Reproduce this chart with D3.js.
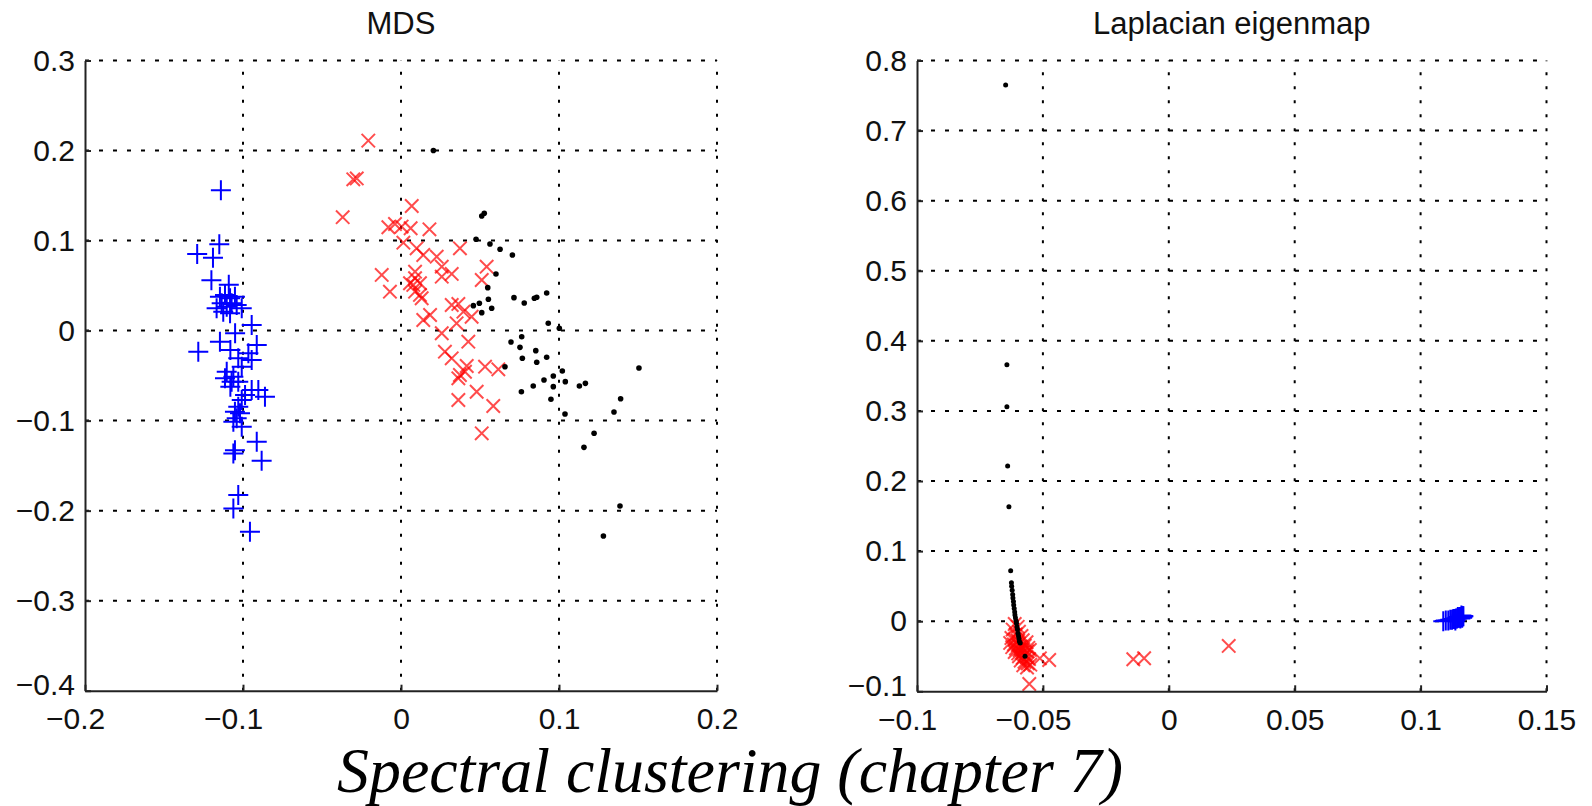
<!DOCTYPE html>
<html>
<head>
<meta charset="utf-8">
<title>Spectral clustering (chapter 7)</title>
<script src="https://cdn.jsdelivr.net/npm/d3@7"></script>
<style>
	html, body { margin:0; padding:0; background:#fff; }
	#chartBox { width:1592px; height:806px; overflow:hidden; }
	svg text { font-family:"Liberation Sans", Arial, Helvetica, sans-serif; fill:#111; }
</style>
</head>
<body>
<div id="chartBox"></div>
<script>
// ---------- data ----------
var chartCaption = "Spectral clustering (chapter 7)";
var mdsTitle = "MDS";
var lapTitle = "Laplacian eigenmap";

var mdsXTicks = [-0.2, -0.1, 0, 0.1, 0.2];
var mdsYTicks = [-0.4, -0.3, -0.2, -0.1, 0, 0.1, 0.2, 0.3];
var lapXTicks = [-0.1, -0.05, 0, 0.05, 0.1, 0.15];
var lapYTicks = [-0.1, 0, 0.1, 0.2, 0.3, 0.4, 0.5, 0.6, 0.7, 0.8];

// MDS embedding, blue "+"
var mdsPlus = [
	[-0.114,0.156],[-0.115,0.096],[-0.129,0.085],[-0.119,0.081],[-0.120,0.056],[-0.109,0.051],
	[-0.1146,0.0377],[-0.1114,0.0396],[-0.1082,0.0359],[-0.1051,0.0377],[-0.1135,0.0303],[-0.1103,0.0266],
	[-0.1072,0.0303],[-0.104,0.0284],[-0.1125,0.021],[-0.1082,0.0192],[-0.1008,0.0248],[-0.1167,0.0248],
	[-0.0945,0.0062],[-0.105,-0.003],[-0.0913,-0.016],[-0.1146,-0.0123],[-0.1283,-0.0234],[-0.108,-0.0216],
	[-0.0966,-0.0252],[-0.103,-0.0308],[-0.0945,-0.0327],[-0.1008,-0.0401],[-0.1103,-0.0457],[-0.1061,-0.0512],
	[-0.1114,-0.053],[-0.1072,-0.0568],[-0.103,-0.0568],[-0.108,-0.0623],[-0.0945,-0.066],[-0.0903,-0.066],
	[-0.0861,-0.0734],[-0.0987,-0.0716],[-0.1008,-0.0771],[-0.103,-0.0845],[-0.1051,-0.0901],[-0.1019,-0.0919],
	[-0.104,-0.0975],[-0.1061,-0.1012],[-0.1008,-0.1068],[-0.0913,-0.1234],[-0.1061,-0.1364],[-0.1051,-0.133],
	[-0.0882,-0.1445],[-0.103,-0.1827],[-0.1061,-0.1975],[-0.0956,-0.2234]
];
// MDS embedding, red "x"
var mdsCross = [
	[-0.0207,0.211],[-0.0302,0.168],[-0.028,0.169],[-0.0369,0.126],[0.0068,0.1384],[-0.008,0.1148],
	[-0.0038,0.1184],[0.0004,0.1155],[0.0061,0.1137],[0.018,0.1125],[0.0015,0.0977],[0.0099,0.0914],
	[0.0141,0.084],[0.0226,0.0821],[0.0373,0.0914],[0.0258,0.071],[0.0321,0.0629],[0.0542,0.071],
	[-0.0122,0.0618],[0.0089,0.0654],[0.0089,0.0581],[0.012,0.0526],[0.0057,0.0526],[-0.007,0.0432],
	[0.0511,0.0562],[0.0258,0.0599],[0.0089,0.0432],[0.0078,0.0507],[0.012,0.0396],[0.0131,0.0359],
	[0.0321,0.0284],[0.0363,0.0296],[0.0395,0.021],[0.0447,0.0154],[0.0184,0.0173],[0.0141,0.0118],
	[0.0352,0.0081],[0.0258,-0.003],[0.0426,-0.0123],[0.0278,-0.0234],[0.0321,-0.0308],[0.0416,-0.0393],
	[0.0405,-0.0457],[0.0532,-0.0401],[0.0616,-0.043],[0.0363,-0.053],[0.0373,-0.0493],[0.0479,-0.0679],
	[0.0363,-0.0771],[0.0584,-0.0838],[0.0511,-0.1141]
];
// MDS embedding, black dots
var mdsDot = [
	[0.0205,0.200],[0.0511,0.1273],[0.0527,0.1303],[0.0475,0.1014],[0.0563,0.0962],[0.0627,0.0903],
	[0.0705,0.084],[0.0601,0.0629],[0.0549,0.0477],[0.0458,0.0277],[0.0496,0.0303],[0.0553,0.0348],
	[0.0574,0.0248],[0.0511,0.0199],[0.0715,0.0366],[0.078,0.0307],[0.0844,0.0359],[0.0859,0.037],
	[0.0922,0.0418],[0.0932,0.0081],[0.1002,0.0026],[0.0696,-0.0127],[0.0764,-0.0068],[0.0753,-0.0186],
	[0.0768,-0.0308],[0.0853,-0.0223],[0.0859,-0.0352],[0.0922,-0.0297],[0.0658,-0.0401],[0.1021,-0.0449],
	[0.0964,-0.0504],[0.0905,-0.0549],[0.104,-0.0567],[0.0837,-0.0616],[0.0964,-0.0623],[0.0762,-0.0679],
	[0.0949,-0.0763],[0.1129,-0.0616],[0.1167,-0.0586],[0.1506,-0.0416],[0.139,-0.0757],[0.1038,-0.0927],
	[0.1348,-0.0904],[0.1222,-0.1141],[0.1158,-0.1297],[0.1386,-0.1949],[0.1281,-0.2282]
];

// Laplacian eigenmap, blue "+"
var lapPlus = [
	[0.1090,0.000],[0.1100,0.001],[0.1110,0.001],[0.1118,0.002],[0.1125,0.002],[0.1130,0.003],
	[0.1135,0.003],[0.1140,0.004],[0.1145,0.004],[0.1150,0.005],[0.1153,0.005],[0.1156,0.006],
	[0.1160,0.006],[0.1163,0.006],[0.1166,0.007],[0.1168,0.007],[0.1170,0.007],[0.1158,0.004],
	[0.1148,0.006],[0.1165,0.005],[0.1138,0.001],[0.1162,0.008]
];
// Laplacian eigenmap, red "x"
var lapCross = [
	[-0.0612,-0.004],[-0.0600,-0.008],[-0.0620,-0.012],[-0.0595,-0.015],[-0.0608,-0.019],[-0.0585,-0.021],
	[-0.0625,-0.024],[-0.0610,-0.026],[-0.0598,-0.028],[-0.0580,-0.027],[-0.0565,-0.030],[-0.0630,-0.031],
	[-0.0615,-0.033],[-0.0600,-0.034],[-0.0588,-0.036],[-0.0572,-0.035],[-0.0558,-0.038],[-0.0622,-0.037],
	[-0.0607,-0.039],[-0.0593,-0.041],[-0.0578,-0.040],[-0.0563,-0.043],[-0.0552,-0.041],[-0.0612,-0.044],
	[-0.0598,-0.046],[-0.0583,-0.045],[-0.0570,-0.047],[-0.0595,-0.050],[-0.0580,-0.052],[-0.0565,-0.051],
	[-0.0555,-0.054],[-0.0588,-0.056],[-0.0573,-0.058],[-0.0560,-0.060],[-0.0578,-0.063],[-0.0563,-0.066],
	[-0.0550,-0.062],[-0.0554,-0.0896],[-0.0512,-0.053],[-0.0475,-0.0553],[-0.0141,-0.0543],[-0.0098,-0.0529],
	[0.0238,-0.0353]
];
// Laplacian eigenmap, black dots
var lapDot = [
	[-0.0648,0.765],[-0.0643,0.366],[-0.0643,0.306],[-0.0640,0.2215],[-0.0635,0.1634],[-0.0628,0.072],
	[-0.0625,0.055],[-0.0624,0.050],[-0.0622,0.044],[-0.0620,0.038],[-0.0619,0.033],[-0.0617,0.028],
	[-0.0616,0.023],[-0.0614,0.018],[-0.0612,0.013],[-0.0611,0.009],[-0.0609,0.005],[-0.0607,0.001],
	[-0.0605,-0.003],[-0.0603,-0.008],[-0.0601,-0.012],[-0.0599,-0.017],[-0.0597,-0.021],[-0.0595,-0.025],
	[-0.0593,-0.029],[-0.0590,-0.031],[-0.0571,-0.050]
];

;(function(d3, win){
	// marker shapes for d3.symbol (stroked, like matlab '+' and 'x')
	var plusShape = {
		draw : function(ctx, size){
			var r = Math.sqrt(size) / 2;
			ctx.moveTo(-r, 0); ctx.lineTo(r, 0);
			ctx.moveTo(0, -r); ctx.lineTo(0, r);
		}
	};
	var crossShape = {
		draw : function(ctx, size){
			var r = Math.sqrt(size) / 2;
			ctx.moveTo(-r, -r); ctx.lineTo(r, r);
			ctx.moveTo(-r, r); ctx.lineTo(r, -r);
		}
	};
	var tickFmt = d3.format("~f");

	function Panel(svg, opt)
	{
		// default options
		this._opt = {
			left : 0, right : 0, top : 0, bottom : 0,
			xDomain : [0, 1], yDomain : [0, 1],
			xTicks : [], yTicks : [],
			title : "",
			plus : [], cross : [], dot : [],
			dotR : 2.8
		};
		Object.assign(this._opt, opt);
		this.svg = svg;
	}

	Panel.prototype = {
		_init : function(){
			var o = this._opt;
			this.x = d3.scaleLinear().domain(o.xDomain).range([o.left, o.right]);
			this.y = d3.scaleLinear().domain(o.yDomain).range([o.bottom, o.top]);
			this.g = this.svg.append("g");
			this._drawGrid();
			this._drawPoints();
			this._drawAxes();
			this._drawTitle();
		},

		// dotted grid, also makes the top/right edges (box off)
		_drawGrid : function(){
			var o = this._opt, x = this.x, y = this.y;
			var grid = this.g.append("g").attr("stroke", "#000").attr("stroke-width", 2);
			grid.selectAll("line.gx").data(o.xTicks.slice(1)).enter()
				.append("line").attr("class", "gx")
				.attr("x1", function(d){ return x(d); }).attr("x2", function(d){ return x(d); })
				.attr("y1", o.bottom).attr("y2", o.top)
				.attr("stroke-dasharray", "3,11");
			grid.selectAll("line.gy").data(o.yTicks.slice(1)).enter()
				.append("line").attr("class", "gy")
				.attr("y1", function(d){ return y(d); }).attr("y2", function(d){ return y(d); })
				.attr("x1", o.left).attr("x2", o.right)
				.attr("stroke-dasharray", "4,10");
		},

		_drawAxes : function(){
			var o = this._opt;
			var ax = this.g.append("g")
				.attr("transform", "translate(0," + o.bottom + ")")
				.call(d3.axisBottom(this.x).tickValues(o.xTicks).tickFormat(tickFmt)
					.tickSizeInner(-6).tickSizeOuter(0).tickPadding(17));
			var ay = this.g.append("g")
				.attr("transform", "translate(" + o.left + ",0)")
				.call(d3.axisLeft(this.y).tickValues(o.yTicks).tickFormat(tickFmt)
					.tickSizeInner(-6).tickSizeOuter(0).tickPadding(10));
			[ax, ay].forEach(function(a){
				a.attr("font-size", 30).attr("font-family", null);
				a.select(".domain").attr("stroke", "#222").attr("stroke-width", 2);
				a.selectAll(".tick line").attr("stroke", "#222").attr("stroke-width", 2);
				a.selectAll(".tick text").attr("fill", "#111");
			});
			// matlab centres the digits, the minus hangs to the left
			ax.selectAll(".tick text").attr("dx", function(d){ return d < 0 ? "-0.33em" : 0; });
			// lift the lowest y label a little so it clears the x labels
			ay.selectAll(".tick text").filter(function(d){ return d === o.yDomain[0]; })
				.attr("dy", "0.14em");
		},

		_drawPoints : function(){
			var o = this._opt, x = this.x, y = this.y;
			var pos = function(d){ return "translate(" + x(d[0]) + "," + y(d[1]) + ")"; };
			this.g.append("g").selectAll("path").data(o.plus).enter()
				.append("path")
				.attr("d", d3.symbol().type(plusShape).size(400))
				.attr("transform", pos)
				.attr("fill", "none").attr("stroke", "#0000ff").attr("stroke-width", 2);
			this.g.append("g").selectAll("path").data(o.cross).enter()
				.append("path")
				.attr("d", d3.symbol().type(crossShape).size(180))
				.attr("transform", pos)
				.attr("fill", "none").attr("stroke", "#ff0000").attr("stroke-opacity", 0.7).attr("stroke-width", 2);
			this.g.append("g").selectAll("circle").data(o.dot).enter()
				.append("circle")
				.attr("cx", function(d){ return x(d[0]); })
				.attr("cy", function(d){ return y(d[1]); })
				.attr("r", o.dotR)
				.attr("fill", "#000");
		},

		_drawTitle : function(){
			var o = this._opt;
			this.g.append("text")
				.attr("x", (o.left + o.right) / 2)
				.attr("y", 33.5)
				.attr("text-anchor", "middle")
				.attr("font-size", 31)
				.text(o.title);
		}
	};

	var svg = d3.select("#chartBox").append("svg")
		.attr("width", 1592).attr("height", 806)
		.style("display", "block").style("background", "#fff");

	new Panel(svg, {
		left : 85, right : 717, top : 60.5, bottom : 690.7,
		xDomain : [-0.2, 0.2], yDomain : [-0.4, 0.3],
		xTicks : mdsXTicks, yTicks : mdsYTicks,
		title : mdsTitle,
		plus : mdsPlus, cross : mdsCross, dot : mdsDot
	})._init();

	new Panel(svg, {
		left : 917, right : 1546.5, top : 60.5, bottom : 691.3,
		xDomain : [-0.1, 0.15], yDomain : [-0.1, 0.8],
		xTicks : lapXTicks, yTicks : lapYTicks,
		title : lapTitle,
		plus : lapPlus, cross : lapCross, dot : lapDot, dotR : 2.5
	})._init();

	// caption under both panels
	svg.append("text")
		.attr("x", 337).attr("y", 792)
		.attr("font-style", "italic")
		.attr("font-size", 64)
		.attr("textLength", 786).attr("lengthAdjust", "spacingAndGlyphs")
		.style("font-family", "'Liberation Serif', 'Times New Roman', Times, serif")
		.style("fill", "#000")
		.text(chartCaption);
})(d3, window);
</script>
</body>
</html>
